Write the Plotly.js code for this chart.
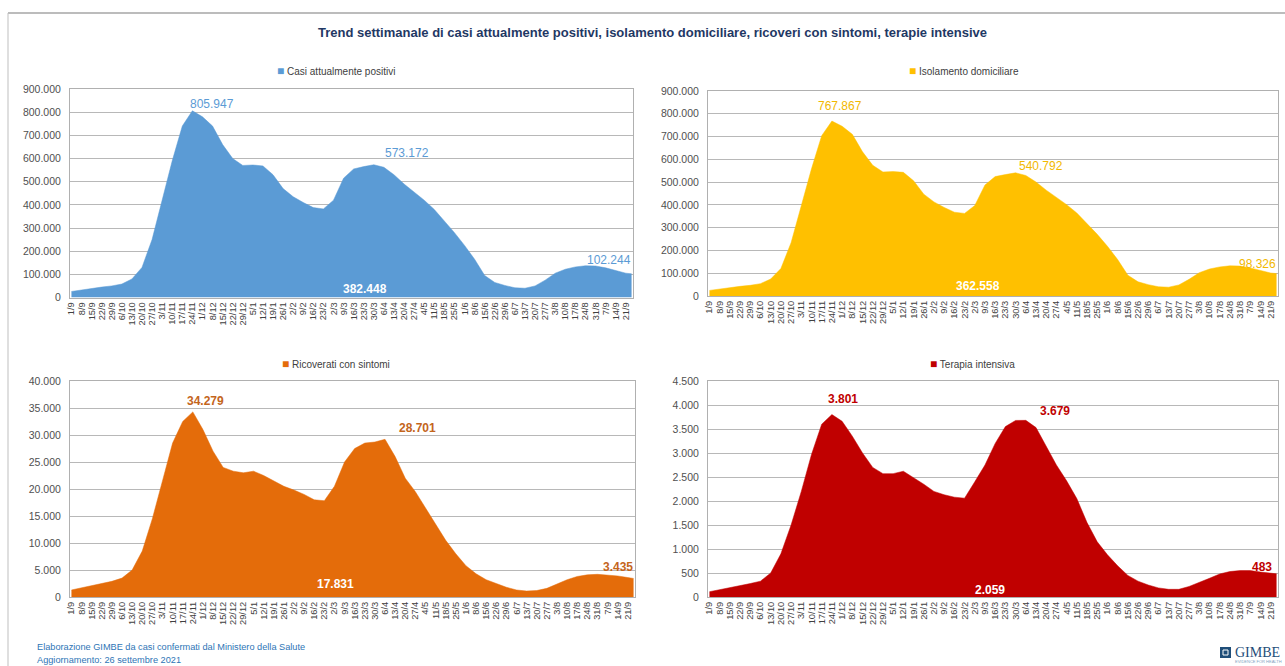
<!DOCTYPE html>
<html><head><meta charset="utf-8">
<script src="https://cdn.plot.ly/plotly-3.0.1.min.js"></script>
<style>html,body{margin:0;padding:0;background:#fff;}#chart{width:1285px;height:666px;}</style>
</head><body><div id="chart"></div>
<script>
const dates = ['2020-09-01','2020-09-08','2020-09-15','2020-09-22','2020-09-29','2020-10-06','2020-10-13','2020-10-20','2020-10-27','2020-11-03','2020-11-10','2020-11-17','2020-11-24','2020-12-01','2020-12-08','2020-12-15','2020-12-22','2020-12-29','2021-01-05','2021-01-12','2021-01-19','2021-01-26','2021-02-02','2021-02-09','2021-02-16','2021-02-23','2021-03-02','2021-03-09','2021-03-16','2021-03-23','2021-03-30','2021-04-06','2021-04-13','2021-04-20','2021-04-27','2021-05-04','2021-05-11','2021-05-18','2021-05-25','2021-06-01','2021-06-08','2021-06-15','2021-06-22','2021-06-29','2021-07-06','2021-07-13','2021-07-20','2021-07-27','2021-08-03','2021-08-10','2021-08-17','2021-08-24','2021-08-31','2021-09-07','2021-09-14','2021-09-21','2021-09-25'];
const tickLabels = ['1/9','8/9','15/9','22/9','29/9','6/10','13/10','20/10','27/10','3/11','10/11','17/11','24/11','1/12','8/12','15/12','22/12','29/12','5/1','12/1','19/1','26/1','2/2','9/2','16/2','23/2','2/3','9/3','16/3','23/3','30/3','6/4','13/4','20/4','27/4','4/5','11/5','18/5','25/5','1/6','8/6','15/6','22/6','29/6','6/7','13/7','20/7','27/7','3/8','10/8','17/8','24/8','31/8','7/9','14/9','21/9'];
const tickDates = dates.slice(0, tickLabels.length);

const positivi = [26000,33000,40000,45000,50000,58000,80000,130000,250000,420000,590000,740000,805947,780000,740000,660000,600000,570000,572000,568000,530000,470000,435000,410000,388000,382448,420000,515000,555000,565000,573172,562000,530000,490000,455000,420000,380000,330000,280000,225000,165000,95000,65000,52000,42000,40000,50000,75000,105000,122000,132000,137000,136000,128000,116000,105000,102244];
const isolamento = [24600,31100,37700,42300,46800,54200,74500,120600,234000,396300,558500,703900,767867,745300,709600,633000,574000,544400,546100,542900,506000,447200,413000,388900,367900,362558,397100,487300,524300,533000,540792,529100,500500,464800,432700,401100,364400,318000,270800,218300,160000,91300,62200,49900,40500,38700,48600,73200,102300,118400,127700,132400,131300,123400,111600,100900,98326];
const ricoveri = [1300,1700,2100,2500,2900,3500,5000,8500,14500,21500,28500,32500,34279,31000,27000,24000,23300,23000,23300,22500,21500,20500,19800,19000,18000,17831,20500,25000,27500,28500,28701,29200,26000,22000,19500,16500,13500,10500,8000,5800,4300,3200,2500,1800,1300,1100,1200,1600,2400,3200,3800,4100,4200,4100,3900,3600,3435];
const terapia = [110,150,200,240,280,330,500,900,1500,2200,2970,3600,3801,3660,3350,3000,2700,2570,2570,2620,2490,2350,2200,2130,2080,2059,2400,2750,3200,3550,3679,3680,3530,3150,2750,2420,2050,1550,1150,880,650,450,330,250,190,160,160,220,300,390,480,530,550,550,520,490,483];

const seriesNames = ['Casi attualmente positivi','Isolamento domiciliare','Ricoverati con sintomi','Terapia intensiva'];
const chartTitle = 'Trend settimanale di casi attualmente positivi, isolamento domiciliare, ricoveri con sintomi, terapie intensive';
const footLines = ['Elaborazione GIMBE da casi confermati dal Ministero della Salute','Aggiornamento: 26 settembre 2021'];

const FONT = 'Liberation Sans, Arial, sans-serif';
const W = 1285, H = 666;
const px = v => v / W, py = v => 1 - v / H;
const fmt = v => String(v).replace(/\B(?=(\d{3})+(?!\d))/g, '.');

const panels = [
  {data: positivi, color:'#5b9bd5', lab:'#5b9bd5', x0:70, x1:633, y0:89, y1:297.5, max:900000, dt:100000, leg:[336,71],
   marks:[[12,20,7,false,'center'],[30,33,12,false,'center'],[25,42,8.5,true,'center'],[56,1,14,false,'right']]},
  {data: isolamento, color:'#ffc000', lab:'#f2b800', x0:708, x1:1278, y0:91, y1:296, max:900000, dt:100000, leg:[964,71],
   marks:[[12,8,15,false,'center'],[30,25,7,false,'center'],[25,13,10,true,'center'],[56,1,10,false,'right']]},
  {data: ricoveri, color:'#e46c0a', lab:'#c4651c', x0:70, x1:635, y0:381, y1:597, max:40000, dt:5000, leg:[336,364],
   marks:[[12,13,11,false,'center'],[30,43,14,false,'center'],[25,11,13,true,'center'],[56,1,11.5,false,'right']]},
  {data: terapia, color:'#c00000', lab:'#c00000', x0:708, x1:1278, y0:381, y1:597, max:4500, dt:500, leg:[972,364],
   marks:[[12,11,15.6,false,'center'],[30,39,9,false,'center'],[25,25,7,true,'center'],[56,-3,7,false,'right']]}
];

const traces = [], annotations = [], shapes = [];
const layout = {
  width: W, height: H, margin:{l:0,r:0,t:0,b:0}, separators: ',.',
  paper_bgcolor:'#ffffff', plot_bgcolor:'#ffffff', showlegend:false,
  font:{family: FONT, size: 9, color:'#404040'}
};

panels.forEach((p, i) => {
  const n = i + 1, xa = 'x' + (n === 1 ? '' : n), ya = 'y' + (n === 1 ? '' : n);
  traces.push({type:'scatter', mode:'lines', x: dates, y: p.data, xaxis: xa, yaxis: ya,
    fill:'tozeroy', fillcolor: p.color, line:{color: p.color, width: 0.5}, name: seriesNames[i], hoverinfo:'skip'});
  layout['xaxis' + (n === 1 ? '' : n)] = {
    domain:[px(p.x0), px(p.x1)], anchor: ya, type:'date', range:['2020-08-31','2021-09-26'],
    tickmode:'array', tickvals: tickDates, ticktext: tickLabels, tickangle: -90,
    tickfont:{size: 9.3, color:'#404040', family: FONT}, showgrid:false, showline:true, mirror:true,
    linecolor:'#b0b0b0', linewidth:1, ticks:'', zeroline:false
  };
  layout['yaxis' + (n === 1 ? '' : n)] = {
    domain:[py(p.y1), py(p.y0)], anchor: xa, range:[0, p.max], dtick: p.dt, tick0: 0, tickformat:',d',
    tickfont:{size: 10.5, color:'#505050', family: FONT}, showgrid:true, gridcolor:'#b8b8b8', gridwidth:1,
    showline:true, mirror:true, linecolor:'#b0b0b0', linewidth:1, ticks:'', zeroline:false, ticklabelstandoff: 6
  };
  annotations.push({xref:'paper', yref:'paper', x: px(p.leg[0]), y: py(p.leg[1]), xanchor:'center', yanchor:'middle',
    showarrow:false, text:'<span style="color:' + p.color + ';font-size:12px">■</span> ' + seriesNames[i],
    font:{size: 10, color:'#404040', family: FONT}});
  p.marks.forEach(m => {
    const [idx, xs, ys, inside, xan] = m;
    annotations.push({xref: xa, yref: ya, x: dates[idx], y: inside ? 0 : p.data[idx],
      xanchor: xan, yanchor:'middle', xshift: xs, yshift: ys, showarrow:false,
      text: (inside || i >= 2) ? '<b>' + fmt(p.data[idx]) + '</b>' : fmt(p.data[idx]),
      font:{size: 12, color: inside ? '#ffffff' : p.lab, family: FONT}});
  });
});

annotations.push({xref:'paper', yref:'paper', x: px(652), y: py(32), xanchor:'center', yanchor:'middle', showarrow:false,
  text:'<b>' + chartTitle + '</b>', font:{size: 13, color:'#1f3864', family: FONT}});
annotations.push({xref:'paper', yref:'paper', x: px(35), y: py(647), xanchor:'left', yanchor:'middle', showarrow:false,
  text: footLines[0], font:{size: 9.2, color:'#2e75b6', family: FONT}});
annotations.push({xref:'paper', yref:'paper', x: px(35), y: py(660), xanchor:'left', yanchor:'middle', showarrow:false,
  text: footLines[1], font:{size: 9.2, color:'#2e75b6', family: FONT}});
annotations.push({xref:'paper', yref:'paper', x: px(1233), y: py(652), xanchor:'left', yanchor:'middle', showarrow:false,
  text:'GIMBE', font:{size: 14, color:'#1f4e79', family:'Liberation Serif, DejaVu Serif, serif'}});
annotations.push({xref:'paper', yref:'paper', x: px(1233), y: py(661), xanchor:'left', yanchor:'middle', showarrow:false,
  text:'EVIDENCE FOR HEALTH', font:{size: 4, color:'#7f9fbf', family: FONT}});
shapes.push({type:'rect', xref:'paper', yref:'paper', x0: px(1220), x1: px(1231), y0: py(658), y1: py(647),
  fillcolor:'#1f4e79', line:{width:0}});
shapes.push({type:'rect', xref:'paper', yref:'paper', x0: px(1223), x1: px(1228), y0: py(655), y1: py(650),
  fillcolor:'rgba(0,0,0,0)', line:{width:1, color:'#ffffff'}});
shapes.push({type:'line', xref:'paper', yref:'paper', x0: px(8), x1: 1, y0: py(13), y1: py(13), line:{color:'#a6a6a6', width:1.5}});
shapes.push({type:'line', xref:'paper', yref:'paper', x0: px(8), x1: px(8), y0: py(13), y1: 0, line:{color:'#bfbfbf', width:1}});

layout.annotations = annotations;
layout.shapes = shapes;
Plotly.newPlot('chart', traces, layout, {staticPlot:true, displayModeBar:false});
</script></body></html>
